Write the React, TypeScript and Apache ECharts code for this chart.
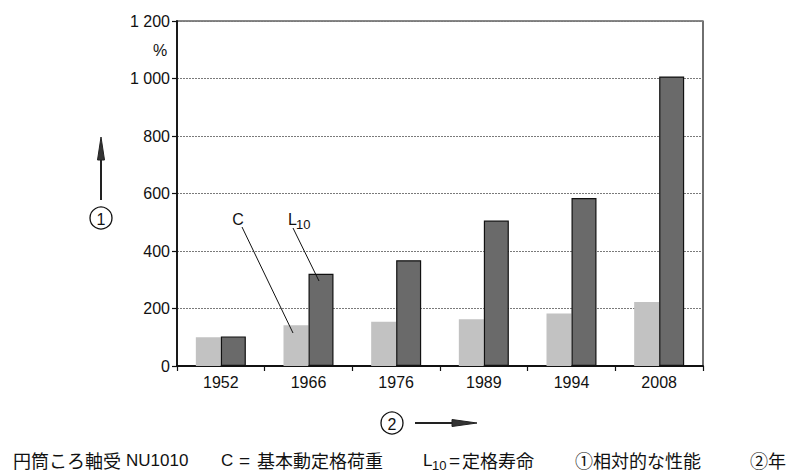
import React, { useEffect, useRef } from "react";
import * as echarts from "echarts";

const years = ["1952", "1966", "1976", "1989", "1994", "2008"];
const loadRating = [100, 142, 154, 163, 183, 223]; // C
const ratingLife = [103, 321, 368, 506, 584, 1007]; // L10
const yTicks = { min: 0, max: 1200, interval: 200 };

const LATIN = "Liberation Sans, Arial, sans-serif";
const CJK = "Noto Sans CJK JP, sans-serif";

function fmt(v: number): string {
  const s = String(v);
  return s.length > 3 ? s.slice(0, s.length - 3) + " " + s.slice(-3) : s;
}

export default function App() {
  const ref = useRef<HTMLDivElement>(null);
  useEffect(() => {
    document.body.style.margin = "0";
    if (!ref.current) return;
    const chart = echarts.init(ref.current, null, { renderer: "svg" });
    const txt = (x: number, y: number, text: string, size: number, font: string, align = "left") => ({
      type: "text",
      x,
      y,
      z: 20,
      style: { text, fontSize: size, fontFamily: font, fill: "#111", align, verticalAlign: "middle" },
    });
    chart.setOption({
      animation: false,
      backgroundColor: "#fff",
      textStyle: { fontFamily: LATIN, color: "#111" },
      grid: { left: 177, right: 99, top: 21, bottom: 109, show: true, borderColor: "#111", borderWidth: 1.2, backgroundColor: "transparent" },
      xAxis: {
        type: "category",
        data: years,
        axisLine: { lineStyle: { color: "#111", width: 1.8 } },
        axisTick: { show: true, length: 5, lineStyle: { color: "#111", width: 1.2 } },
        axisLabel: { fontSize: 16, color: "#111", margin: 8, fontFamily: LATIN },
      },
      yAxis: {
        type: "value",
        min: yTicks.min,
        max: yTicks.max,
        interval: yTicks.interval,
        axisLine: { show: true, lineStyle: { color: "#111", width: 1.8 } },
        axisTick: { show: true, length: 5, lineStyle: { color: "#111", width: 1.2 } },
        axisLabel: { fontSize: 16, color: "#111", margin: 7, formatter: (v: number) => fmt(v), fontFamily: LATIN },
        splitLine: { show: true, lineStyle: { color: "#7a7a7a", type: [2, 1], width: 1.2 } },
      },
      series: [
        {
          name: "C",
          type: "bar",
          data: loadRating,
          barWidth: 25,
          barGap: "0%",
          itemStyle: { color: "#c2c2c2" },
          z: 3,
        },
        {
          name: "L10",
          type: "bar",
          data: ratingLife,
          barWidth: 25,
          barGap: "0%",
          itemStyle: { color: "#6a6a6a", borderColor: "#111", borderWidth: 1.2 },
          z: 3,
        },
      ],
      graphic: [
        txt(160, 50, "%", 16, LATIN, "center"),
        // annotation C
        txt(238, 219, "C", 16, LATIN, "center"),
        { type: "line", z: 20, shape: { x1: 242, y1: 227, x2: 293, y2: 333 }, style: { stroke: "#111", lineWidth: 1 } },
        // annotation L10
        txt(288, 219, "L", 16, LATIN),
        txt(296, 224, "10", 13, LATIN),
        { type: "line", z: 20, shape: { x1: 293, y1: 228, x2: 319, y2: 281 }, style: { stroke: "#111", lineWidth: 1 } },
        // left arrow + ①
        { type: "line", shape: { x1: 101, y1: 200, x2: 101, y2: 152 }, style: { stroke: "#222", lineWidth: 2 } },
        { type: "polygon", shape: { points: [[101, 137], [97.5, 160], [104.5, 160]] }, style: { fill: "#333", stroke: "#222", lineWidth: 1 } },
        { type: "circle", shape: { cx: 101, cy: 218, r: 11 }, style: { fill: "none", stroke: "#111", lineWidth: 1.3 } },
        txt(101, 219, "1", 16, LATIN, "center"),
        // bottom arrow + ②
        { type: "circle", shape: { cx: 392, cy: 423, r: 11 }, style: { fill: "none", stroke: "#111", lineWidth: 1.3 } },
        txt(392, 424, "2", 16, LATIN, "center"),
        { type: "line", shape: { x1: 415, y1: 423, x2: 460, y2: 423 }, style: { stroke: "#222", lineWidth: 2 } },
        { type: "polygon", shape: { points: [[477, 423], [452, 419.5], [452, 426.5]] }, style: { fill: "#333", stroke: "#222", lineWidth: 1 } },
        // footer
        txt(13, 460, "円筒ころ軸受", 18, CJK),
        txt(126, 460, "NU1010", 17, LATIN),
        txt(221, 460, "C", 17, LATIN),
        txt(239, 460, "=", 19, LATIN),
        txt(257, 460, "基本動定格荷重", 18, CJK),
        txt(423, 460, "L", 17, LATIN),
        txt(432, 465, "10", 13, LATIN),
        txt(449, 460, "=", 19, LATIN),
        txt(462, 460, "定格寿命", 18, CJK),
        txt(575, 460, "①相対的な性能", 18, CJK),
        txt(750, 460, "②年", 18, CJK),
      ],
    });
    return () => chart.dispose();
  }, []);
  return <div ref={ref} style={{ width: 802, height: 475 }} />;
}
